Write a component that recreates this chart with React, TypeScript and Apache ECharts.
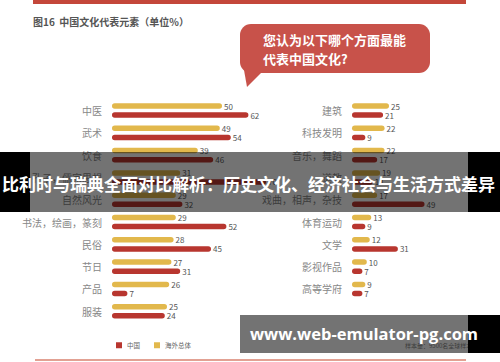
import React, { useEffect, useRef } from "react";
import * as echarts from "echarts";

const leftCats = ["中医", "武术", "饮食", "孔子，儒家思想", "自然风光", "书法，绘画，篆刻", "民俗", "节日", "产品", "服装"];
const leftOverseas = [50, 49, 39, 31, 29, 29, 28, 27, 26, 25];
const leftChina = [62, 54, 46, 70, 32, 52, 45, 31, 7, 24];

const rightCats = ["建筑", "科技发明", "音乐，舞蹈", "道教", "戏曲，相声，杂技", "体育运动", "文学", "影视作品", "高等学府"];
const rightOverseas = [25, 22, 22, 19, 17, 13, 12, 10, 9];
const rightChina = [21, 9, 17, 14, 49, 9, 31, 7, 7];

const YELLOW = "#e2b84c";
const RED = "#b8362f";
const FONT = "'Noto Sans CJK SC', 'Noto Sans', sans-serif";

export default function App() {
  const ref = useRef<HTMLDivElement>(null);
  useEffect(() => {
    if (!ref.current) return;
    const chart = echarts.init(ref.current, null, { renderer: "svg" });
    const rowH = 22.3;
    const top = 99.4;
    const barCommon = {
      type: "bar" as const,
      barWidth: 5.5,
      barGap: "65%",
      itemStyle: { borderRadius: 3 },
      label: { show: true, position: "right" as const, distance: 2, fontSize: 8, color: "#555", fontFamily: FONT },
    };
    const yAxisCommon = {
      type: "category" as const,
      inverse: true,
      axisLine: { show: false },
      axisTick: { show: false },
      axisLabel: { color: "#888", fontSize: 10, margin: 10, fontFamily: FONT },
    };
    chart.setOption({
      animation: false,
      backgroundColor: "#ffffff",
      textStyle: { fontFamily: FONT },
      grid: [
        { left: 112, top, width: 220, height: rowH * leftCats.length },
        { left: 352, top, width: 214, height: rowH * rightCats.length },
      ],
      xAxis: [
        { type: "value", gridIndex: 0, min: 0, max: 100, show: false },
        { type: "value", gridIndex: 1, min: 0, max: 100, show: false },
      ],
      yAxis: [
        { ...yAxisCommon, gridIndex: 0, data: leftCats },
        { ...yAxisCommon, gridIndex: 1, data: rightCats },
      ],
      legend: {
        left: 111,
        top: 337,
        icon: "rect",
        itemWidth: 6,
        itemHeight: 6,
        itemGap: 14,
        textStyle: { fontSize: 6.5, color: "#666", fontFamily: FONT },
        data: ["中国", "海外总体"],
      },
      series: [
        { ...barCommon, name: "海外总体", xAxisIndex: 0, yAxisIndex: 0, data: leftOverseas, itemStyle: { ...barCommon.itemStyle, color: YELLOW } },
        { ...barCommon, name: "中国", xAxisIndex: 0, yAxisIndex: 0, data: leftChina, itemStyle: { ...barCommon.itemStyle, color: RED } },
        { ...barCommon, name: "海外总体", xAxisIndex: 1, yAxisIndex: 1, data: rightOverseas, itemStyle: { ...barCommon.itemStyle, color: YELLOW } },
        { ...barCommon, name: "中国", xAxisIndex: 1, yAxisIndex: 1, data: rightChina, itemStyle: { ...barCommon.itemStyle, color: RED } },
      ],
      graphic: [
        { type: "rect", z: 50, shape: { x: 33, y: 0, width: 433, height: 4 }, style: { fill: "#c4473a" } },
        { type: "text", z: 50, x: 33, y: 16, style: { text: "图16  中国文化代表元素（单位%）", fontSize: 10, fontWeight: "bold", fill: "#555", fontFamily: FONT } },
        { type: "rect", z: 50, shape: { x: 240, y: 24, width: 190, height: 49, r: 11 }, style: { fill: "#c8524a" } },
        { type: "polygon", z: 50, shape: { points: [[244, 70], [264, 70], [247, 87]] }, style: { fill: "#c8524a" } },
        { type: "text", z: 51, x: 263, y: 33, style: { text: "您认为以下哪个方面最能", fontSize: 13, fontWeight: "bold", fill: "#fff", fontFamily: FONT } },
        { type: "text", z: 51, x: 263, y: 52, style: { text: "代表中国文化?", fontSize: 13, fontWeight: "bold", fill: "#fff", fontFamily: FONT } },
        { type: "text", z: 50, x: 405, y: 342, style: { text: "样本量：9500名全球样本", fontSize: 6, fill: "#888", fontFamily: FONT } },
        { type: "line", z: 50, shape: { x1: 35, y1: 360, x2: 466, y2: 360 }, style: { stroke: "#d9826f", lineWidth: 1.5 } },
        // overlay banner
        { type: "rect", z: 100, shape: { x: 30, y: 152, width: 438, height: 60 }, style: { fill: "rgba(0,0,0,0.55)" } },
        { type: "rect", z: 100, shape: { x: 0, y: 152, width: 30, height: 60 }, style: { fill: "#000" } },
        { type: "rect", z: 100, shape: { x: 468, y: 152, width: 32, height: 60 }, style: { fill: "#000" } },
        { type: "text", z: 101, x: 2, y: 183, style: { text: "比利时与瑞典全面对比解析：历史文化、经济社会与生活方式差异", fontSize: 17, fontWeight: "bold", fill: "#fff", fontFamily: FONT, verticalAlign: "middle" } },
        // watermark banner
        { type: "rect", z: 100, shape: { x: 240, y: 315, width: 228, height: 38 }, style: { fill: "rgba(0,0,0,0.55)" } },
        { type: "rect", z: 100, shape: { x: 468, y: 315, width: 32, height: 38 }, style: { fill: "#000" } },
        { type: "text", z: 101, x: 250, y: 333, style: { text: "www.web-emulator-pg.com", fontSize: 16.5, fontWeight: "bold", fill: "#fff", fontFamily: "'Open Sans', 'DejaVu Sans', sans-serif", verticalAlign: "middle" } },
      ],
    });
    return () => chart.dispose();
  }, []);
  return <div ref={ref} style={{ position: "fixed", left: 0, top: 0, width: 500, height: 362 }} />;
}
